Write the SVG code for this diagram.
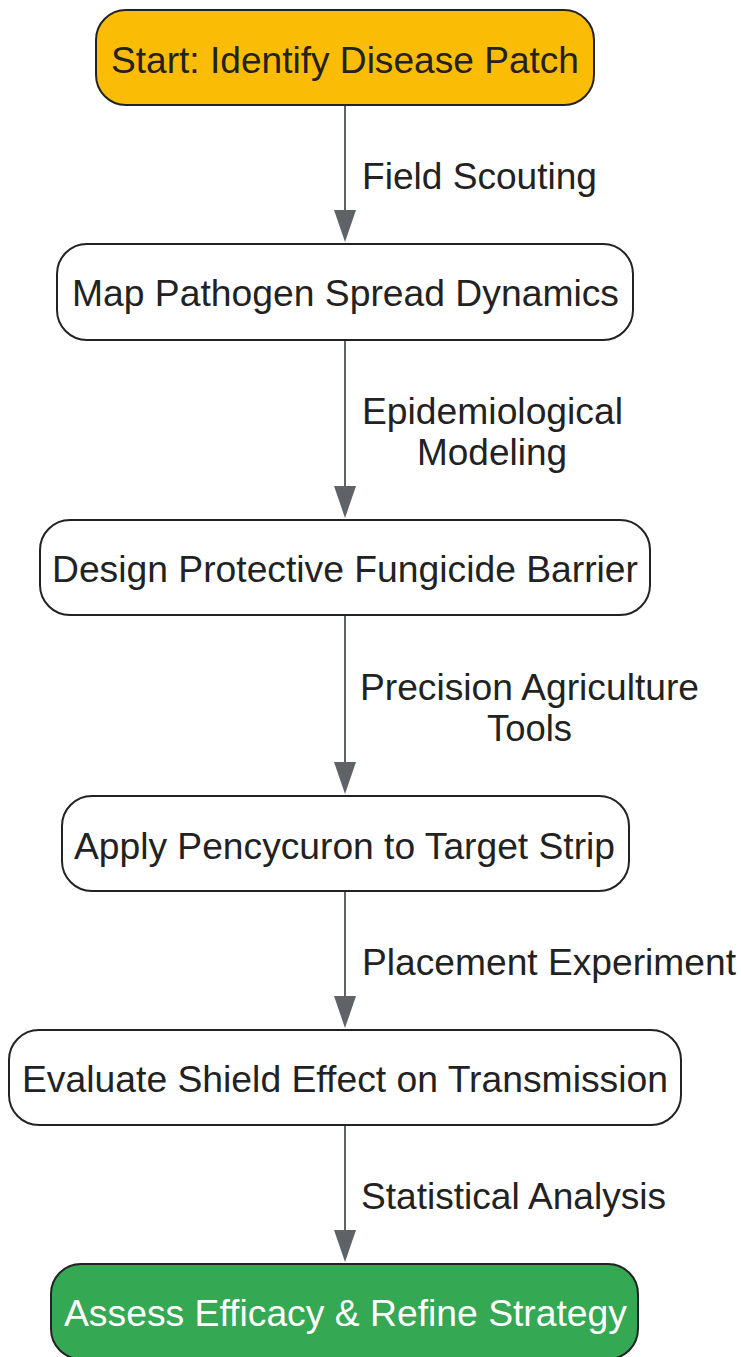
<svg xmlns="http://www.w3.org/2000/svg" width="741" height="1357" viewBox="0 0 741 1357">
<defs>
<marker id="ah" viewBox="0 0 22 32" refX="22" refY="11" markerWidth="22" markerHeight="32" markerUnits="userSpaceOnUse" orient="auto">
<path d="M0,0 L32,11 L0,22 Z" fill="#5f6368"/>
</marker>
<style>
.n{stroke:#222;stroke-width:2;fill:#fff}
.t{font-family:"Liberation Sans",Arial,sans-serif;font-size:36px;fill:#222}
.l{font-family:"Liberation Sans",Arial,sans-serif;font-size:36px;fill:#222}
.e{stroke:#5f6368;stroke-width:2;fill:none}
</style>
</defs>
<rect width="741" height="1357" fill="#fff"/>
<g id="edges">
<line class="e" x1="345" y1="105" x2="345" y2="212"/>
<path d="M334,210 L356,210 L345,242 Z" fill="#5f6368"/>
<line class="e" x1="345" y1="340" x2="345" y2="488"/>
<path d="M334,486 L356,486 L345,518 Z" fill="#5f6368"/>
<line class="e" x1="345" y1="615" x2="345" y2="764"/>
<path d="M334,762 L356,762 L345,794 Z" fill="#5f6368"/>
<line class="e" x1="345" y1="891" x2="345" y2="998"/>
<path d="M334,996 L356,996 L345,1028 Z" fill="#5f6368"/>
<line class="e" x1="345" y1="1125" x2="345" y2="1232"/>
<path d="M334,1230 L356,1230 L345,1262 Z" fill="#5f6368"/>
<text class="l" x="362" y="189" textLength="235" lengthAdjust="spacingAndGlyphs">Field Scouting</text>
<text class="l" x="362" y="424" textLength="261" lengthAdjust="spacingAndGlyphs">Epidemiological</text>
<text class="l" x="417" y="465" textLength="150" lengthAdjust="spacingAndGlyphs">Modeling</text>
<text class="l" x="360" y="700" textLength="339" lengthAdjust="spacingAndGlyphs">Precision Agriculture</text>
<text class="l" x="487" y="741" textLength="85" lengthAdjust="spacingAndGlyphs">Tools</text>
<text class="l" x="362" y="975" textLength="374" lengthAdjust="spacingAndGlyphs">Placement Experiment</text>
<text class="l" x="361" y="1209" textLength="305" lengthAdjust="spacingAndGlyphs">Statistical Analysis</text>
</g>
<g id="start">
<rect class="n" x="96" y="10" width="498" height="95" rx="30" fill="#fbbc05" style="fill:#fbbc05"/>
<text class="t" x="111" y="73" textLength="468" lengthAdjust="spacingAndGlyphs">Start: Identify Disease Patch</text>
</g>
<g id="map">
<rect class="n" x="57" y="244" width="576" height="96" rx="30"/>
<text class="t" x="72" y="306" textLength="547" lengthAdjust="spacingAndGlyphs">Map Pathogen Spread Dynamics</text>
</g>
<g id="design">
<rect class="n" x="40" y="520" width="610" height="95" rx="30"/>
<text class="t" x="52" y="582" textLength="586" lengthAdjust="spacingAndGlyphs">Design Protective Fungicide Barrier</text>
</g>
<g id="apply">
<rect class="n" x="62" y="796" width="567" height="95" rx="30"/>
<text class="t" x="74" y="859" textLength="541" lengthAdjust="spacingAndGlyphs">Apply Pencycuron to Target Strip</text>
</g>
<g id="evaluate">
<rect class="n" x="9" y="1030" width="672" height="95" rx="30"/>
<text class="t" x="22" y="1092" textLength="646" lengthAdjust="spacingAndGlyphs">Evaluate Shield Effect on Transmission</text>
</g>
<g id="assess">
<rect class="n" x="51" y="1264" width="587" height="95" rx="30" style="fill:#34a853"/>
<text class="t" x="64" y="1326" textLength="563" lengthAdjust="spacingAndGlyphs" style="fill:#fff">Assess Efficacy &amp; Refine Strategy</text>
</g>
</svg>
